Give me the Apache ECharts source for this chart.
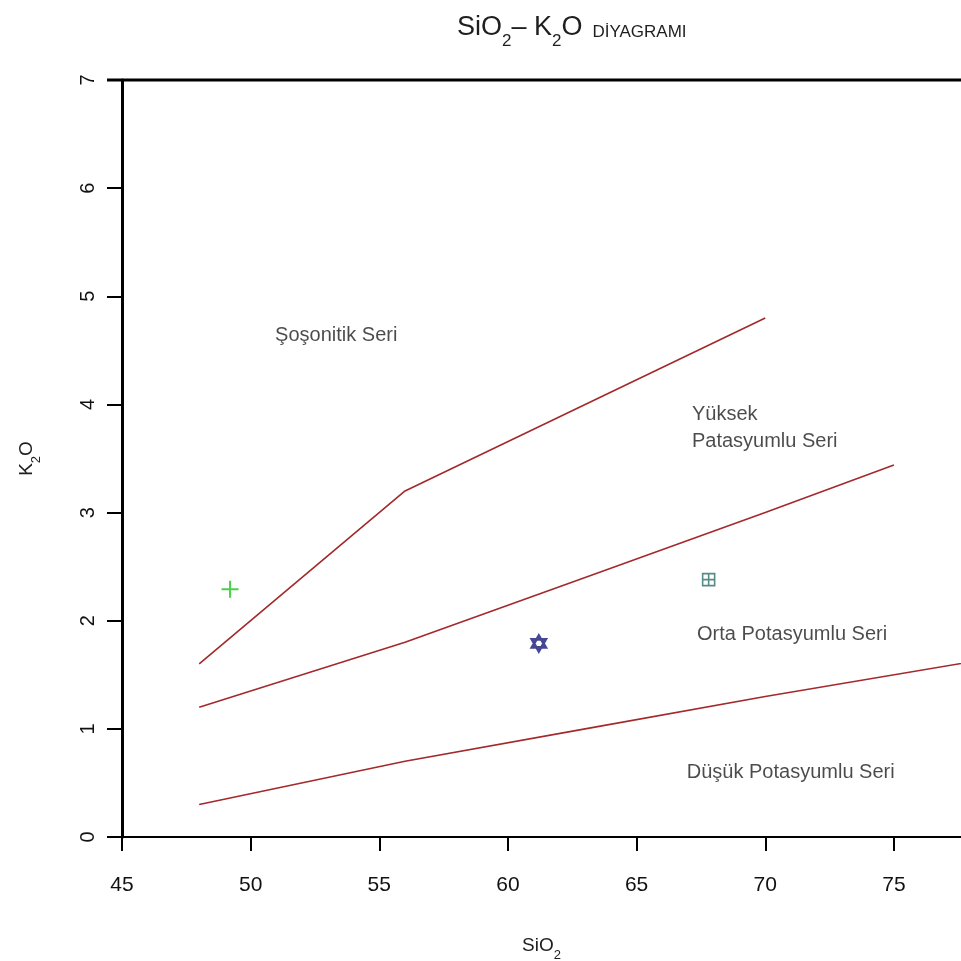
<!DOCTYPE html>
<html>
<head>
<meta charset="utf-8">
<script src="https://cdn.jsdelivr.net/npm/echarts@6/dist/echarts.min.js"></script>
<style>
  html, body { margin: 0; padding: 0; background: #fff; }
  #chart { width: 961px; height: 961px; }
</style>
</head>
<body>
<div id="chart"></div>
<script>
// Series boundaries (SiO2, K2O)
const shoshoniteLine = [[48, 1.6], [56, 3.2], [63, 4.0], [70, 4.8]];
const highKLine = [[48, 1.2], [56, 1.8], [63, 2.4], [70, 3.0], [75, 3.44]];
const lowKLine = [[48, 0.3], [56, 0.7], [63, 1.0], [70, 1.3], [78, 1.62]];

// Samples
const sampleA = [[49.2, 2.29]];
const sampleB = [[61.2, 1.79]];
const sampleC = [[67.8, 2.38]];

// Field names and their anchor points
const fieldNames = ['Şoşonitik Seri', 'Yüksek\nPatasyumlu Seri', 'Orta Potasyumlu Seri', 'Düşük Potasyumlu Seri'];
const fieldAnchors = [[50.95, 4.64], [67.15, 3.78], [67.35, 1.875], [66.95, 0.60]];

const xTicks = [45, 50, 55, 60, 65, 70, 75];
const yTicks = [0, 1, 2, 3, 4, 5, 6, 7];

const FONT = 'Liberation Sans, Arial, sans-serif';
const LINE_COLOR = '#a3292b';
const TEXT = '#1e1e1e';

const chart = echarts.init(document.getElementById('chart'), null, { renderer: 'canvas' });

const boundary = (data) => ({
  type: 'line',
  data: data,
  symbol: 'none',
  silent: true,
  lineStyle: { color: LINE_COLOR, width: 1.6 },
  z: 3
});

const subRich = (big, small, drop) => ({
  a: { fontFamily: FONT, fontSize: big, fontWeight: 'normal', color: TEXT, verticalAlign: 'bottom', lineHeight: big + 5 },
  s: { fontFamily: FONT, fontSize: small, fontWeight: 'normal', color: TEXT, verticalAlign: 'bottom', lineHeight: small + 4, padding: [0, 0, -drop, 0] }
});

chart.setOption({
  animation: false,
  backgroundColor: '#ffffff',
  title: {
    text: '{a|SiO}{s|2}{a|– K}{s|2}{a|O}  {b|DİYAGRAMI}',
    left: 452,
    top: 4,
    textStyle: {
      rich: Object.assign(subRich(27, 17, 9), {
        b: { fontFamily: FONT, fontSize: 17, fontWeight: 'normal', color: TEXT, verticalAlign: 'bottom', lineHeight: 28 }
      })
    }
  },
  grid: { left: 122, right: 0, top: 80, bottom: 124, containLabel: false, outerBoundsMode: 'none' },
  xAxis: {
    type: 'value',
    min: 45,
    max: 45 + 839 / 25.73,
    interval: 5,
    name: '{a|SiO}{s|2}',
    nameLocation: 'middle',
    nameGap: 94,
    nameTextStyle: { rich: subRich(19, 13, 7) },
    axisLine: { show: true, onZero: false, lineStyle: { color: '#000', width: 2 } },
    axisTick: { show: true, length: 14, lineStyle: { color: '#000', width: 2 } },
    axisLabel: {
      show: true,
      margin: 38,
      fontFamily: FONT,
      fontSize: 21,
      color: '#111',
      showMaxLabel: false,
      formatter: (v) => (xTicks.includes(v) ? String(v) : '')
    },
    splitLine: { show: false }
  },
  yAxis: {
    type: 'value',
    min: 0,
    max: 7,
    interval: 1,
    name: '{a|K}{s|2}{a|O}',
    nameLocation: 'middle',
    nameRotate: 90,
    nameGap: 86,
    nameTextStyle: { rich: subRich(19, 13, 7) },
    axisLine: { show: true, onZero: false, lineStyle: { color: '#000', width: 3 } },
    axisTick: { show: true, length: 15, lineStyle: { color: '#000', width: 2 } },
    axisLabel: {
      show: true,
      rotate: 90,
      margin: 24,
      fontFamily: FONT,
      fontSize: 20,
      color: '#111',
      formatter: (v) => (yTicks.includes(v) ? String(v) : '')
    },
    splitLine: { show: false }
  },
  graphic: [
    // top frame edge of the plotting region
    {
      type: 'line',
      shape: { x1: 107, y1: 80, x2: 961, y2: 80 },
      style: { stroke: '#000', lineWidth: 3 },
      z: 10
    }
  ],
  series: [
    boundary(shoshoniteLine),
    boundary(highKLine),
    boundary(lowKLine),
    {
      type: 'scatter',
      data: sampleA,
      symbol: 'path://M-1,-0.12 H1 V0.12 H-1 Z M-0.12,-1 H0.12 V1 H-0.12 Z',
      symbolSize: 17,
      itemStyle: { color: '#1fc41f' },
      z: 5
    },
    {
      type: 'scatter',
      data: sampleB,
      symbol: 'path://M0,-1 L0.866,0.5 L-0.866,0.5 Z M0,1 L0.866,-0.5 L-0.866,-0.5 Z',
      symbolSize: [14, 16],
      itemStyle: { color: 'rgba(0,0,0,0)', borderColor: '#16197a', borderWidth: 2.6 },
      z: 5
    },
    {
      type: 'scatter',
      data: sampleC,
      symbol: 'path://M-1,-1 H1 V1 H-1 Z M0,-1 V1 M-1,0 H1',
      symbolSize: 12,
      itemStyle: { color: 'rgba(0,0,0,0)', borderColor: '#2b6e6c', borderWidth: 1.6 },
      z: 5
    },
    {
      type: 'scatter',
      data: fieldAnchors.map((p, i) => ({ value: p, name: fieldNames[i] })),
      symbolSize: 0,
      silent: true,
      label: {
        show: true,
        position: 'inside',
        align: 'left',
        verticalAlign: 'middle',
        formatter: (p) => p.name,
        fontFamily: FONT,
        fontSize: 20,
        lineHeight: 27,
        color: TEXT
      },
      z: 6
    }
  ]
});
</script>
</body>
</html>
